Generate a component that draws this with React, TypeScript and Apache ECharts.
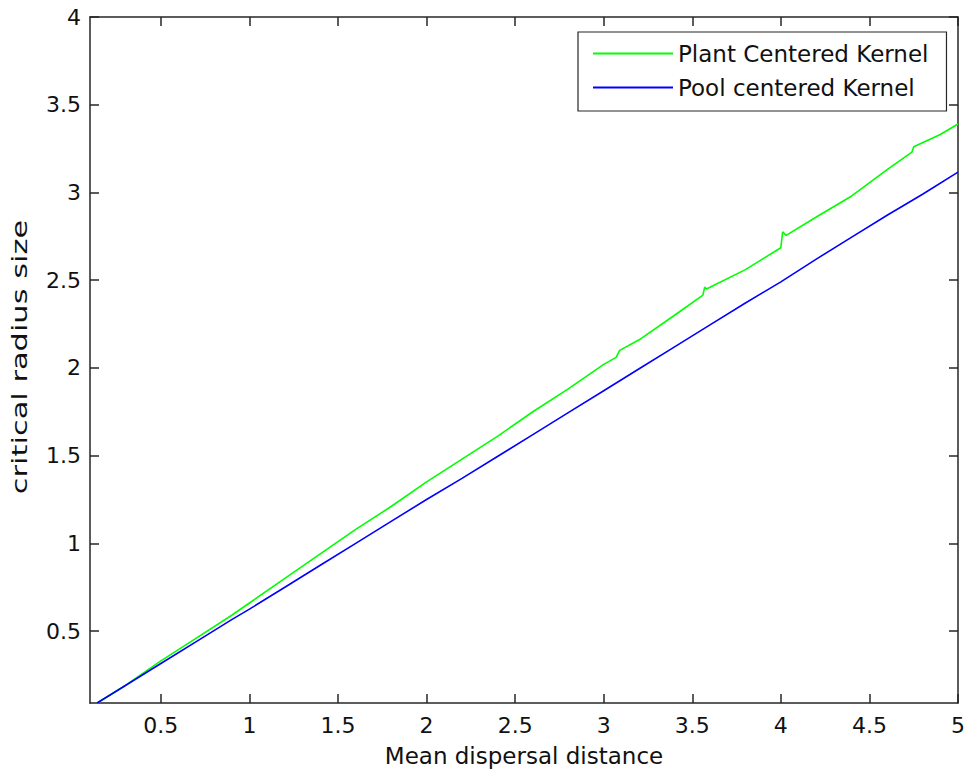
import React, { useEffect, useRef } from "react";
import * as echarts from "echarts";

const plantX = [0.14, 0.3, 0.5, 0.7, 0.9, 1.0, 1.2, 1.4, 1.6, 1.8, 2.0, 2.2, 2.4, 2.6, 2.8, 3.0, 3.07, 3.09, 3.2, 3.4, 3.56, 3.57, 3.58, 3.8, 4.0, 4.01, 4.03, 4.2, 4.4, 4.6, 4.74, 4.75, 4.9, 5.0];
const plantY = [0.09, 0.19, 0.33, 0.46, 0.59, 0.66, 0.80, 0.94, 1.08, 1.21, 1.35, 1.48, 1.61, 1.75, 1.88, 2.02, 2.06, 2.10, 2.16, 2.30, 2.415, 2.46, 2.45, 2.56, 2.685, 2.775, 2.755, 2.86, 2.98, 3.13, 3.23, 3.26, 3.33, 3.39];

const poolX = [0.14, 0.3, 0.5, 0.7, 0.9, 1.0, 1.2, 1.4, 1.6, 1.8, 2.0, 2.2, 2.4, 2.6, 2.8, 3.0, 3.2, 3.4, 3.6, 3.8, 4.0, 4.2, 4.4, 4.6, 4.8, 5.0];
const poolY = [0.09, 0.19, 0.315, 0.44, 0.565, 0.625, 0.75, 0.875, 1.0, 1.125, 1.25, 1.37, 1.495, 1.62, 1.745, 1.87, 1.995, 2.12, 2.245, 2.37, 2.49, 2.62, 2.745, 2.87, 2.99, 3.116];

const xTicks = [0.5, 1, 1.5, 2, 2.5, 3, 3.5, 4, 4.5, 5];
const yTicks = [0.5, 1, 1.5, 2, 2.5, 3, 3.5, 4];

const seriesNames = ["Plant Centered Kernel", "Pool centered Kernel"];
const xName = "Mean dispersal distance";
const yName = "critical radius size";

const FONT = "DejaVu Sans";
const AX = "#262626";
const TXT = "#111111";

export default function App() {
  const ref = useRef<HTMLDivElement>(null);
  useEffect(() => {
    if (!ref.current) return;
    const chart = echarts.init(ref.current, undefined, { renderer: "svg" });
    const lineStyle = { color: AX, width: 1.5 };
    const tick = (vals: number[]) => ({ show: true, inside: true, length: 9, lineStyle, customValues: vals });
    chart.setOption({
      animation: false,
      backgroundColor: "#ffffff",
      grid: { left: 90, right: 10, top: 17, bottom: 72 },
      legend: {
        orient: "vertical",
        left: 578,
        top: 32,
        backgroundColor: "#ffffff",
        borderColor: AX,
        borderWidth: 1.2,
        padding: [10, 18, 12, 15],
        itemGap: 11,
        itemWidth: 80,
        itemHeight: 2,
        icon: "rect",
        textStyle: { fontFamily: FONT, fontSize: 23, color: TXT },
        data: seriesNames,
      },
      graphic: [
        {
          type: "text",
          x: 20,
          y: 357,
          rotation: Math.PI / 2,
          scaleX: 1.45,
          style: {
            text: yName,
            fontFamily: FONT,
            fontSize: 21,
            fill: TXT,
            align: "center",
            verticalAlign: "middle",
          },
        },
      ],
      xAxis: [
        {
          type: "value",
          min: 0.1,
          max: 5,
          position: "bottom",
          name: xName,
          nameLocation: "middle",
          nameGap: 41,
          nameTextStyle: { fontFamily: FONT, fontSize: 23, color: TXT },
          axisLine: { show: true, lineStyle },
          axisTick: tick(xTicks),
          axisLabel: { show: true, customValues: xTicks, margin: 11, fontFamily: FONT, fontSize: 22, color: TXT },
          splitLine: { show: false },
        },
        {
          type: "value",
          min: 0.1,
          max: 5,
          position: "top",
          axisLine: { show: true, lineStyle },
          axisTick: tick(xTicks),
          axisLabel: { show: false },
          splitLine: { show: false },
        },
      ],
      yAxis: [
        {
          type: "value",
          min: 0.09,
          max: 4,
          position: "left",
          axisLine: { show: true, lineStyle },
          axisTick: tick(yTicks),
          axisLabel: { show: true, customValues: yTicks, margin: 9, fontFamily: FONT, fontSize: 22, color: TXT },
          splitLine: { show: false },
        },
        {
          type: "value",
          min: 0.09,
          max: 4,
          position: "right",
          axisLine: { show: true, lineStyle },
          axisTick: tick(yTicks),
          axisLabel: { show: false },
          splitLine: { show: false },
        },
      ],
      series: [
        {
          name: seriesNames[0],
          type: "line",
          showSymbol: false,
          symbol: "none",
          color: "#00ff00",
          lineStyle: { color: "#00ff00", width: 1.6 },
          data: plantX.map((x, i) => [x, plantY[i]]),
        },
        {
          name: seriesNames[1],
          type: "line",
          showSymbol: false,
          symbol: "none",
          color: "#0000ff",
          lineStyle: { color: "#0000ff", width: 1.6 },
          data: poolX.map((x, i) => [x, poolY[i]]),
        },
      ],
    });
    return () => chart.dispose();
  }, []);
  return (
    <div
      ref={ref}
      style={{ position: "fixed", left: 0, top: 0, width: 968, height: 775, background: "#fff" }}
    />
  );
}
